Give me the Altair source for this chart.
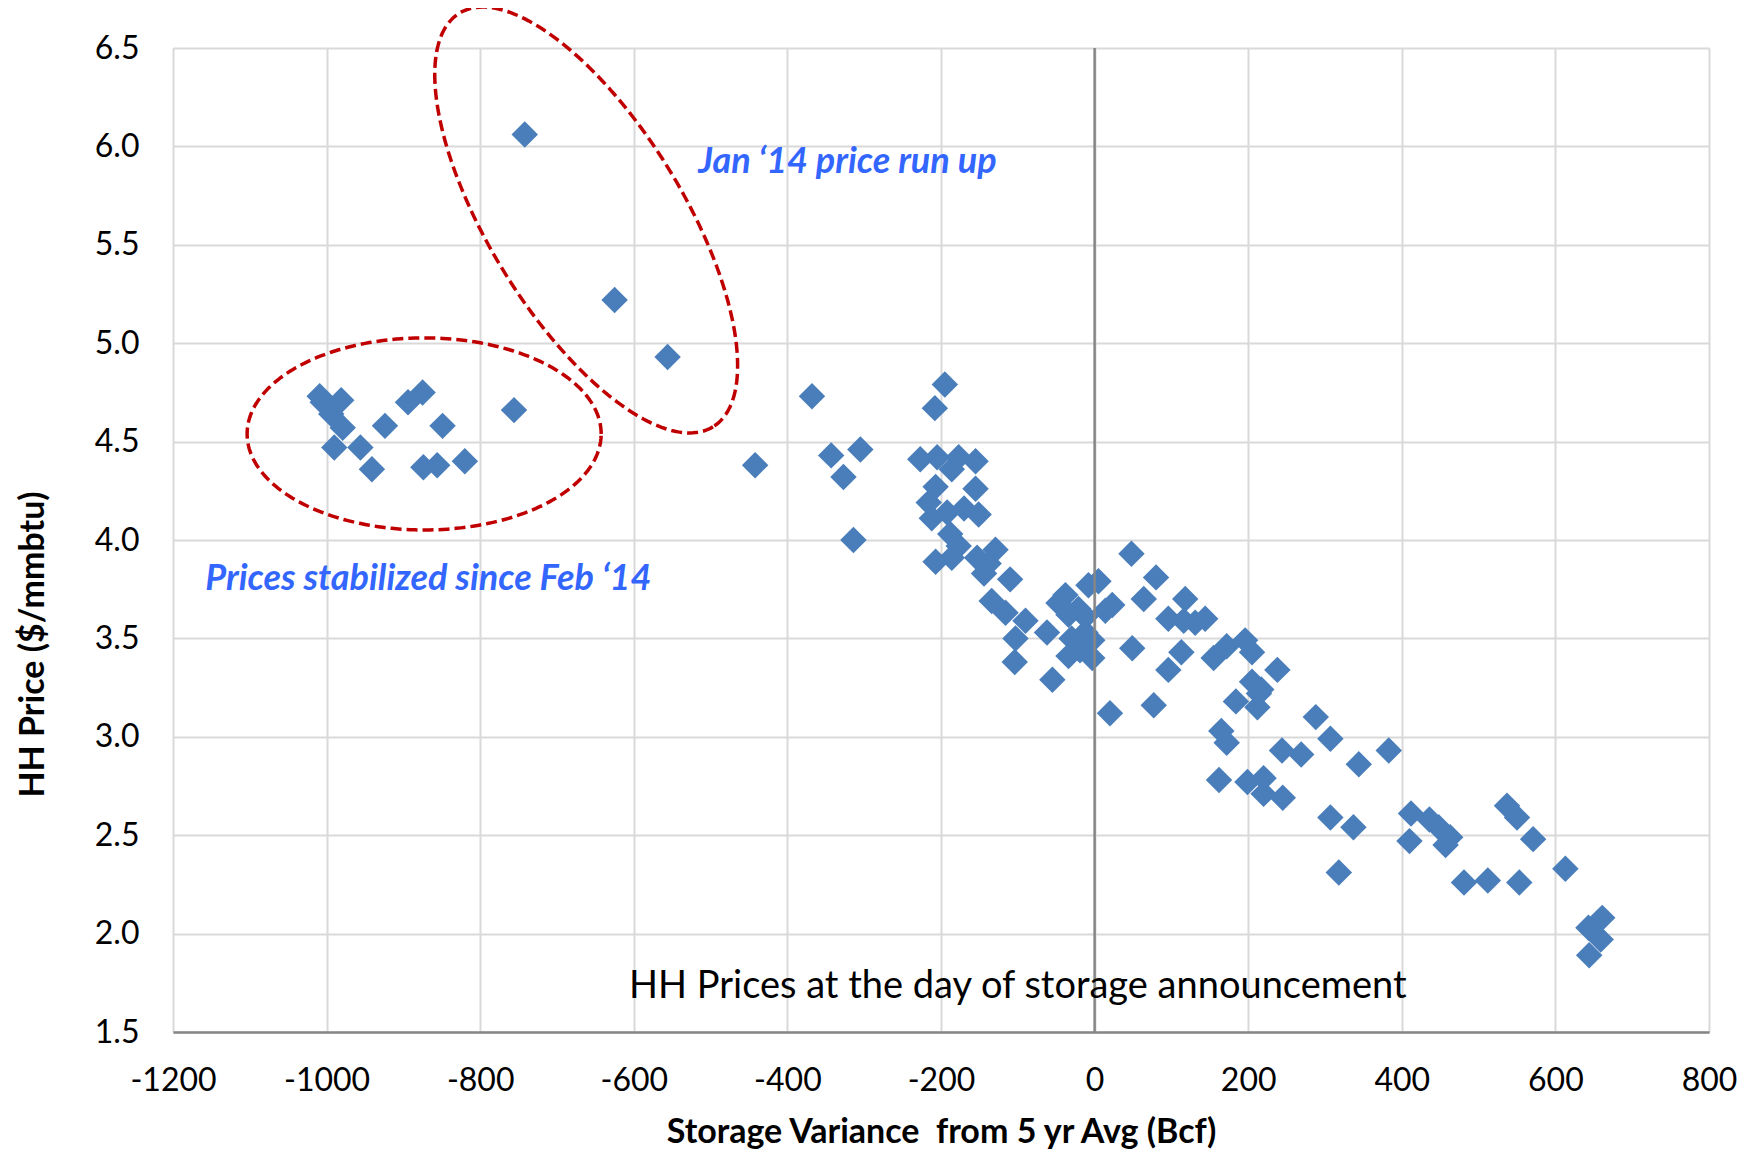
import altair as alt
import pandas as pd
import numpy as np

# ---- data ----
storage = [
    -1009, -1005, -981, -994, -979, -990, -956, -941, -924, -894, -875, -849, -874, -856, -820, -756,
    -742, -625, -556,
    -442, -368, -343, -305, -327, -314, -195, -208,
    -227, -205, -177, -155, -186, -207, -155, -216, -170, -151, -212, -192, -188, -177, -207, -186,
    -153, -129, -138, -144, -110, -134, -116, -90, -103, -104,
    -62, -55, -47, -38, -34, -21, -8, 5, 23, 14, -12, -30, -12, -3, -34, -3, -19, 20,
    48, 80, 64, 118, 96, 116, 131, 144, 49, 113, 96, 77, 155, 172, 196, 205, 238, 205, 217, 184,
    212, 214, 165, 172, 288, 307, 244, 269, 344, 383, 162, 199, 220, 220, 245, 307, 337, 318,
    412, 436, 448, 463, 457, 410, 537, 550, 571, 481, 512, 553, 613, 661, 643, 659, 644,
]
price = [
    4.73, 4.70, 4.71, 4.64, 4.57, 4.47, 4.47, 4.36, 4.58, 4.70, 4.75, 4.58, 4.37, 4.38, 4.40, 4.66,
    6.06, 5.22, 4.93,
    4.38, 4.73, 4.43, 4.46, 4.32, 4.00, 4.79, 4.67,
    4.41, 4.42, 4.42, 4.40, 4.36, 4.27, 4.26, 4.19, 4.16, 4.13, 4.11, 4.14, 4.03, 3.97, 3.89, 3.91,
    3.91, 3.95, 3.88, 3.83, 3.80, 3.69, 3.63, 3.59, 3.50, 3.38,
    3.53, 3.29, 3.68, 3.72, 3.62, 3.65, 3.77, 3.79, 3.67, 3.64, 3.61, 3.50, 3.53, 3.49, 3.41, 3.40, 3.44, 3.12,
    3.93, 3.81, 3.70, 3.70, 3.60, 3.59, 3.58, 3.60, 3.45, 3.43, 3.34, 3.16, 3.40, 3.46, 3.49, 3.43, 3.34, 3.28, 3.24, 3.18,
    3.15, 3.22, 3.03, 2.97, 3.10, 2.99, 2.93, 2.91, 2.86, 2.93, 2.78, 2.77, 2.79, 2.71, 2.69, 2.59, 2.54, 2.31,
    2.61, 2.58, 2.54, 2.49, 2.45, 2.47, 2.65, 2.59, 2.48, 2.26, 2.27, 2.26, 2.33, 2.08, 2.03, 1.97, 1.89,
]

x_ticks = [-1200, -1000, -800, -600, -400, -200, 0, 200, 400, 600, 800]
y_ticks = [1.5, 2.0, 2.5, 3.0, 3.5, 4.0, 4.5, 5.0, 5.5, 6.0, 6.5]

x_title = "Storage Variance \u00a0from 5 yr Avg (Bcf)"
y_title = "HH Price ($/mmbtu)"

note_texts = ["Jan \u201814 price run up", "Prices stabilized since Feb \u201814",
              "HH Prices at the day of storage announcement"]
note_x = [-516, -1158, -100]
note_y = [5.865, 3.746, 1.673]

# ellipse annotations (centre, conjugate semi-axis vectors in data units)
ell_cx = [-873, -662]
ell_cy = [4.539, 5.626]
ell_ax = [(230.5, 0.0), (165.1, -1.051)]
ell_bx = [(0.0, 0.488), (-107.8, -0.2576)]

FONT = "Lato"
BLUE = "#4A7EBB"

pts = pd.DataFrame({"storage": storage, "price": price})

rows = []
t = np.linspace(0, 2 * np.pi, 241)
for i in range(len(ell_cx)):
    for k, tt in enumerate(t):
        rows.append({
            "g": i, "o": k,
            "storage": ell_cx[i] + ell_ax[i][0] * np.cos(tt) + ell_bx[i][0] * np.sin(tt),
            "price": ell_cy[i] + ell_ax[i][1] * np.cos(tt) + ell_bx[i][1] * np.sin(tt),
        })
ell = pd.DataFrame(rows)

xs = alt.Scale(domain=[-1200, 800], nice=False, zero=False)
ys = alt.Scale(domain=[1.5, 6.5], nice=False, zero=False)

x_enc = alt.X("storage:Q", scale=xs, title=x_title,
              axis=alt.Axis(values=x_ticks, labelExpr="'' + datum.value", grid=True, ticks=False,
                            labelFlush=False, labelOverlap=False, labelBound=False,
                            labelFontSize=32, labelFont=FONT, labelColor="#000000", labelPadding=33,
                            domain=True, domainColor="#868686", domainWidth=2.5,
                            gridColor="#d9d9d9", gridWidth=2,
                            titleFont=FONT, titleFontSize=34, titleFontWeight="bold",
                            titleColor="#000000", titlePadding=19))
y_enc = alt.Y("price:Q", scale=ys, title=y_title,
              axis=alt.Axis(values=y_ticks, format=".1f", grid=True, ticks=False,
                            labelFlush=False, labelOverlap=False, labelBound=False,
                            labelFontSize=32, labelFont=FONT, labelColor="#000000", labelPadding=34,
                            domain=False, gridColor="#d9d9d9", gridWidth=2,
                            titleFont=FONT, titleFontSize=34, titleFontWeight="bold",
                            titleColor="#000000", titleAngle=270, titleAlign="center",
                            titleBaseline="middle", titleX=-140, titleY=596))

points_layer = alt.Chart(pts).mark_point(
    shape="diamond", filled=True, size=700, color=BLUE, opacity=1, strokeWidth=0
).encode(x=x_enc, y=y_enc)

zero_rule = alt.Chart(pd.DataFrame({"storage": [0]})).mark_rule(
    color="#868686", strokeWidth=2.5
).encode(x=alt.X("storage:Q", scale=xs))

ell_layer = alt.Chart(ell).mark_line(
    color="#C00000", strokeWidth=3.5, strokeDash=[11, 5], clip=False
).encode(
    x=alt.X("storage:Q", scale=xs),
    y=alt.Y("price:Q", scale=ys),
    detail="g:N", order="o:Q",
)

notes = pd.DataFrame({"text": note_texts, "storage": note_x, "price": note_y,
                      "kind": ["blue", "blue", "black"]})

blue_notes = alt.Chart(notes[notes.kind == "blue"]).mark_text(
    font=FONT, fontSize=36, fontWeight="bold", fontStyle="italic", color="#3366FF",
    align="left", baseline="alphabetic"
).encode(x=alt.X("storage:Q", scale=xs), y=alt.Y("price:Q", scale=ys), text="text:N")

black_notes = alt.Chart(notes[notes.kind == "black"]).mark_text(
    font=FONT, fontSize=38, color="#000000", align="center", baseline="alphabetic"
).encode(x=alt.X("storage:Q", scale=xs), y=alt.Y("price:Q", scale=ys), text="text:N")

chart = alt.layer(points_layer, zero_rule, ell_layer, blue_notes, black_notes).properties(
    width=1536, height=984,
    autosize=alt.AutoSizeParams(type="none"),
    padding={"left": 165, "top": 40, "right": 30, "bottom": 119},
).configure_view(stroke=None).configure(background="white")

chart.save("out.html", embed_options={"renderer": "svg", "actions": False})
